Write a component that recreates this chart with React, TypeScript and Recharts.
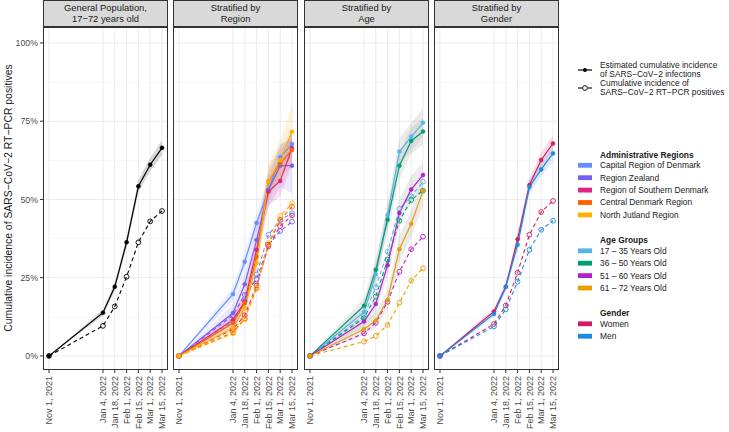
import React from "react";
import {
  ComposedChart,
  Line,
  Area,
  XAxis,
  YAxis,
  CartesianGrid,
} from "recharts";

// days since Nov 1, 2021
const days = [0, 64, 78, 92, 106, 120, 134];
const dateLabels = [
  "Nov 1, 2021",
  "Jan 4, 2022",
  "Jan 18, 2022",
  "Feb 1, 2022",
  "Feb 15, 2022",
  "Mar 1, 2022",
  "Mar 15, 2022",
];
const yTicks = [0, 25, 50, 75, 100];
const yMinor = [12.5, 37.5, 62.5, 87.5];

// General population (percent)
const generalEst = [0, 13.8, 22.1, 36.3, 54.2, 61.1, 66.5];
const generalLo = [0, 12.9, 20.9, 34.7, 52.3, 59.0, 64.2];
const generalHi = [0, 14.8, 23.4, 38.0, 56.2, 63.3, 68.9];
const generalPcr = [0, 9.6, 15.8, 25.3, 36.3, 43.0, 46.3];

// Regions
const capitalEst = [0, 19.7, 30.1, 42.5, 53.0, 63.5, 67.7];
const capitalLo = [0, 17.5, 27.5, 39.5, 49.0, 59.5, 63.5];
const capitalHi = [0, 22.0, 33.0, 45.5, 57.0, 67.5, 72.0];
const capitalPcr = [0, 11.0, 17.5, 26.0, 38.7, 43.4, 45.6];

const zealandEst = [0, 13.7, 22.9, 37.0, 53.0, 60.8, 60.8];
const zealandLo = [0, 11.0, 19.5, 33.0, 47.5, 54.0, 52.0];
const zealandHi = [0, 16.5, 26.5, 41.0, 58.5, 67.5, 69.5];
const zealandPcr = [0, 13.0, 19.5, 24.5, 35.5, 39.9, 42.9];

const southernEst = [0, 11.5, 17.4, 33.9, 52.5, 55.9, 66.4];
const southernLo = [0, 9.5, 14.5, 30.0, 48.0, 51.0, 61.0];
const southernHi = [0, 13.5, 20.5, 38.0, 57.0, 61.0, 72.0];
const southernPcr = [0, 8.5, 13.0, 22.5, 35.0, 41.5, 44.9];

const centralEst = [0, 10.5, 16.9, 31.7, 55.7, 61.5, 65.8];
const centralLo = [0, 8.5, 14.0, 28.0, 51.0, 57.0, 60.5];
const centralHi = [0, 12.5, 20.0, 35.5, 60.5, 66.0, 71.0];
const centralPcr = [0, 7.5, 12.0, 21.6, 35.5, 43.5, 47.7];

const northEst = [0, 8.9, 15.3, 29.7, 55.7, 62.6, 71.6];
const northLo = [0, 6.5, 12.0, 25.5, 50.0, 56.5, 63.5];
const northHi = [0, 11.5, 18.5, 34.0, 61.5, 69.0, 80.0];
const northPcr = [0, 7.2, 11.7, 22.0, 36.0, 44.7, 48.8];

// Age groups
const age1Est = [0, 14.0, 26.0, 45.0, 65.3, 70.0, 74.5];
const age1Lo = [0, 11.5, 22.5, 41.0, 61.0, 65.5, 70.0];
const age1Hi = [0, 16.5, 29.5, 49.0, 69.5, 74.5, 79.0];
const age1Pcr = [0, 12.8, 21.9, 33.3, 47.0, 51.0, 55.7];

const age2Est = [0, 16.0, 27.5, 43.5, 60.8, 68.7, 71.7];
const age2Lo = [0, 13.5, 24.0, 39.5, 56.5, 64.5, 67.5];
const age2Hi = [0, 18.5, 31.0, 47.5, 65.0, 73.0, 76.0];
const age2Pcr = [0, 12.1, 19.0, 30.7, 43.2, 49.8, 52.8];

const age3Est = [0, 11.0, 16.6, 29.0, 45.7, 53.2, 57.8];
const age3Lo = [0, 9.0, 14.0, 25.5, 41.5, 49.0, 53.5];
const age3Hi = [0, 13.0, 19.5, 32.5, 50.0, 57.5, 62.0];
const age3Pcr = [0, 7.2, 10.6, 17.3, 26.9, 34.1, 38.1];

const age4Est = [0, 8.5, 11.3, 17.9, 34.1, 42.2, 52.8];
const age4Lo = [0, 6.5, 9.0, 15.0, 30.0, 38.0, 48.0];
const age4Hi = [0, 10.5, 14.0, 21.0, 38.5, 46.5, 57.5];
const age4Pcr = [0, 4.6, 6.4, 9.9, 17.0, 24.0, 28.0];

// Gender
const womenEst = [0, 14.2, 22.1, 37.3, 54.6, 62.6, 67.9];
const womenLo = [0, 13.2, 20.8, 35.5, 52.5, 60.2, 65.3];
const womenHi = [0, 15.3, 23.5, 39.2, 56.8, 65.0, 70.5];
const womenPcr = [0, 10.2, 16.1, 26.6, 38.7, 46.0, 49.5];

const menEst = [0, 13.4, 22.1, 35.5, 54.0, 59.6, 64.7];
const menLo = [0, 12.4, 20.8, 33.8, 51.9, 57.3, 62.2];
const menHi = [0, 14.5, 23.4, 37.3, 56.1, 62.0, 67.2];
const menPcr = [0, 9.4, 14.9, 23.7, 33.9, 40.3, 43.2];

const FONT = "'Liberation Sans', Arial, sans-serif";
const LEGEND_FS = 8.4;
const PLOT_TOP = 27;
const PLOT_H = 343;
const PANEL_W = 125;
const Y_DOMAIN = [-4.5, 105.1];
const X_DOMAIN = [-7.1, 141.1];

type Series = {
  key: string;
  color: string;
  band: string;
  bandOpacity: number;
  est: number[];
  lo: number[];
  hi: number[];
  pcr: number[];
};

const generalSeries: Series[] = [
  { key: "gen", color: "#000000", band: "#8c8c8c", bandOpacity: 0.35, est: generalEst, lo: generalLo, hi: generalHi, pcr: generalPcr },
];

const regionSeries: Series[] = [
  { key: "cap", color: "#648FFF", band: "#648FFF", bandOpacity: 0.14, est: capitalEst, lo: capitalLo, hi: capitalHi, pcr: capitalPcr },
  { key: "zea", color: "#785EF0", band: "#785EF0", bandOpacity: 0.14, est: zealandEst, lo: zealandLo, hi: zealandHi, pcr: zealandPcr },
  { key: "sou", color: "#DC267F", band: "#DC267F", bandOpacity: 0.14, est: southernEst, lo: southernLo, hi: southernHi, pcr: southernPcr },
  { key: "cen", color: "#FE6100", band: "#FE6100", bandOpacity: 0.14, est: centralEst, lo: centralLo, hi: centralHi, pcr: centralPcr },
  { key: "nju", color: "#FFB000", band: "#FFB000", bandOpacity: 0.14, est: northEst, lo: northLo, hi: northHi, pcr: northPcr },
];

const ageSeries: Series[] = [
  { key: "a1", color: "#56B4E9", band: "#9a9a9a", bandOpacity: 0.2, est: age1Est, lo: age1Lo, hi: age1Hi, pcr: age1Pcr },
  { key: "a2", color: "#009E73", band: "#9a9a9a", bandOpacity: 0.2, est: age2Est, lo: age2Lo, hi: age2Hi, pcr: age2Pcr },
  { key: "a3", color: "#B51FC8", band: "#9a9a9a", bandOpacity: 0.2, est: age3Est, lo: age3Lo, hi: age3Hi, pcr: age3Pcr },
  { key: "a4", color: "#E69F00", band: "#9a9a9a", bandOpacity: 0.2, est: age4Est, lo: age4Lo, hi: age4Hi, pcr: age4Pcr },
];

const genderSeries: Series[] = [
  { key: "w", color: "#D81B60", band: "#D81B60", bandOpacity: 0.15, est: womenEst, lo: womenLo, hi: womenHi, pcr: womenPcr },
  { key: "m", color: "#1E88E5", band: "#1E88E5", bandOpacity: 0.15, est: menEst, lo: menLo, hi: menHi, pcr: menPcr },
];

const buildRows = (series: Series[]) =>
  days.map((day, i) => {
    const row: Record<string, any> = { day };
    series.forEach((s) => {
      row[s.key + "_est"] = s.est[i];
      row[s.key + "_pcr"] = s.pcr[i];
      row[s.key + "_ci"] = [s.lo[i], s.hi[i]];
    });
    return row;
  });

const DateTick = (props: any) => {
  const { x, y, payload } = props;
  const idx = days.indexOf(payload.value);
  return (
    <text
      x={x}
      y={y + 1}
      transform={`rotate(-90, ${x}, ${y + 1})`}
      textAnchor="end"
      dy="0.35em"
      fontSize={9}
      fill="#4D4D4D"
      fontFamily={FONT}
    >
      {dateLabels[idx]}
    </text>
  );
};

const Panel = ({
  left,
  title,
  series,
  withY,
}: {
  left: number;
  title: string[];
  series: Series[];
  withY?: boolean;
}) => {
  const yw = withY ? 43 : 0;
  const rows = buildRows(series);
  return (
    <>
      <div
        style={{
          position: "absolute",
          left,
          top: 0,
          width: PANEL_W,
          height: PLOT_TOP,
          boxSizing: "border-box",
          border: "1px solid #333333",
          background: "#D9D9D9",
          display: "flex",
          flexDirection: "column",
          alignItems: "center",
          justifyContent: "center",
          fontFamily: FONT,
          fontSize: 9.4,
          lineHeight: "10.5px",
          color: "#1A1A1A",
        }}
      >
        {title.map((t) => (
          <div key={t}>{t}</div>
        ))}
      </div>
      <div style={{ position: "absolute", left: left - yw, top: PLOT_TOP }}>
        <ComposedChart
          width={PANEL_W + yw}
          height={405}
          data={rows}
          margin={{ top: 0, right: 0, bottom: 0, left: 0 }}
        >
          <CartesianGrid
            horizontalValues={yMinor}
            vertical={false}
            stroke="#F2F2F2"
            strokeWidth={0.6}
          />
          <CartesianGrid
            horizontalValues={yTicks}
            verticalValues={days}
            stroke="#EBEBEB"
            strokeWidth={1}
          />
          <XAxis
            dataKey="day"
            type="number"
            domain={X_DOMAIN}
            allowDataOverflow
            ticks={days}
            interval={0}
            height={62}
            axisLine={false}
            tickSize={3}
            tickMargin={2}
            tickLine={{ stroke: "#333333" }}
            tick={<DateTick />}
          />
          <YAxis
            type="number"
            domain={Y_DOMAIN}
            allowDataOverflow
            ticks={yTicks}
            hide={!withY}
            width={yw}
            axisLine={false}
            tickSize={3}
            tickMargin={2}
            tickLine={{ stroke: "#333333" }}
            tickFormatter={(v: number) => `${v}%`}
            tick={{ fontSize: 8.8, fill: "#4D4D4D", fontFamily: FONT }}
          />
          {series.map((s) => (
            <Area
              key={s.key + "_ci"}
              dataKey={s.key + "_ci"}
              type="linear"
              stroke="none"
              fill={s.band}
              fillOpacity={s.bandOpacity}
              isAnimationActive={false}
              activeDot={false}
            />
          ))}
          {series.map((s) => (
            <Line
              key={s.key + "_pcr"}
              dataKey={s.key + "_pcr"}
              type="linear"
              stroke={s.color}
              strokeWidth={1.1}
              strokeDasharray="4 3"
              dot={{ r: 2.4, fill: "none", stroke: s.color, strokeWidth: 0.9, strokeDasharray: "0" }}
              isAnimationActive={false}
              activeDot={false}
            />
          ))}
          {series.map((s) => (
            <Line
              key={s.key + "_est"}
              dataKey={s.key + "_est"}
              type="linear"
              stroke={s.color}
              strokeWidth={1.2}
              dot={{ r: 2, fill: s.color, stroke: s.color, strokeWidth: 0.5 }}
              isAnimationActive={false}
              activeDot={false}
            />
          ))}
        </ComposedChart>
      </div>
      <div
        style={{
          position: "absolute",
          left,
          top: PLOT_TOP,
          width: PANEL_W,
          height: PLOT_H,
          boxSizing: "border-box",
          border: "1px solid #333333",
          pointerEvents: "none",
        }}
      />
    </>
  );
};

const legendRegions = [
  { label: "Capital Region of Denmark", color: "#648FFF" },
  { label: "Region Zealand", color: "#785EF0" },
  { label: "Region of Southern Denmark", color: "#DC267F" },
  { label: "Central Denmark Region", color: "#FE6100" },
  { label: "North Jutland Region", color: "#FFB000" },
];
const legendAges = [
  { label: "17 \u2013 35 Years Old", color: "#56B4E9" },
  { label: "36 \u2013 50 Years Old", color: "#009E73" },
  { label: "51 \u2013 60 Years Old", color: "#B51FC8" },
  { label: "61 \u2013 72 Years Old", color: "#E69F00" },
];
const legendGender = [
  { label: "Women", color: "#D81B60" },
  { label: "Men", color: "#1E88E5" },
];

const LegendGroup = ({
  title,
  items,
  y,
}: {
  title: string;
  items: { label: string; color: string }[];
  y: number;
}) => (
  <g fontFamily={FONT} fontSize={LEGEND_FS} fill="#1A1A1A">
    <text x={600} y={y} dy="0.35em" fontWeight="bold">
      {title}
    </text>
    {items.map((it, i) => {
      const cy = y + 10.3 + i * 12.4;
      return (
        <g key={it.label}>
          <rect x={578} y={cy - 2.4} width={14} height={4.8} fill={it.color} />
          <text x={600} y={cy} dy="0.35em">
            {it.label}
          </text>
        </g>
      );
    })}
  </g>
);

export default function App() {
  return (
    <div
      style={{
        position: "absolute",
        left: 0,
        top: 0,
        width: 729,
        height: 432,
        background: "#ffffff",
        overflow: "hidden",
      }}
    >
      <Panel left={43} title={["General Population,", "17\u221272 years old"]} series={generalSeries} withY />
      <Panel left={173} title={["Stratified by", "Region"]} series={regionSeries} />
      <Panel left={304} title={["Stratified by", "Age"]} series={ageSeries} />
      <Panel left={434} title={["Stratified by", "Gender"]} series={genderSeries} />
      <svg
        width={729}
        height={432}
        style={{ position: "absolute", left: 0, top: 0, pointerEvents: "none" }}
      >
        <text
          x={8}
          y={198}
          transform="rotate(-90, 8, 198)"
          textAnchor="middle"
          dy="0.35em"
          fontSize={10.4}
          fontFamily={FONT}
          fill="#1A1A1A"
        >
          Cumulative incidence of SARS{"\u2212"}CoV{"\u2212"}2 RT{"\u2212"}PCR positives
        </text>
        <g fontFamily={FONT} fontSize={LEGEND_FS} fill="#1A1A1A">
          <line x1={578} x2={592} y1={70} y2={70} stroke="#000" strokeWidth={1.2} />
          <circle cx={585} cy={70} r={2} fill="#000" />
          <text x={600} y={65} dy="0.35em">Estimated cumulative incidence</text>
          <text x={600} y={74.5} dy="0.35em">of SARS{"\u2212"}CoV{"\u2212"}2 infections</text>
          <line x1={578} x2={582} y1={88} y2={88} stroke="#000" strokeWidth={1.1} />
          <line x1={588} x2={592} y1={88} y2={88} stroke="#000" strokeWidth={1.1} />
          <circle cx={585} cy={88} r={2.4} fill="none" stroke="#000" strokeWidth={0.9} />
          <text x={600} y={83} dy="0.35em">Cumulative incidence of</text>
          <text x={600} y={92.5} dy="0.35em">SARS{"\u2212"}CoV{"\u2212"}2 RT{"\u2212"}PCR positives</text>
        </g>
        <LegendGroup title="Administrative Regions" items={legendRegions} y={155} />
        <LegendGroup title="Age Groups" items={legendAges} y={240.5} />
        <LegendGroup title="Gender" items={legendGender} y={313.5} />
      </svg>
    </div>
  );
}
